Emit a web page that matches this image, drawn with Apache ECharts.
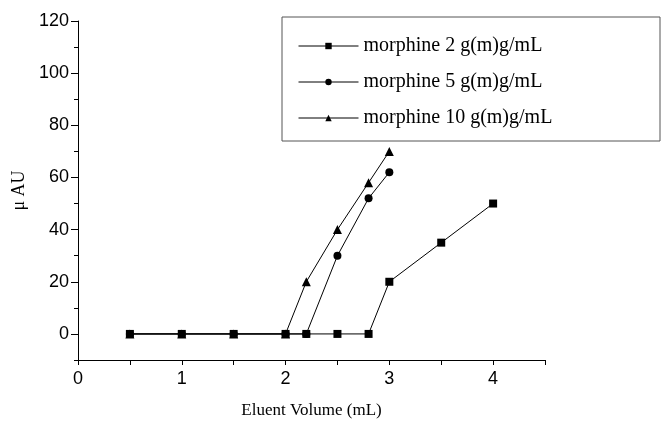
<!DOCTYPE html>
<html>
<head>
<meta charset="utf-8">
<script src="https://cdn.jsdelivr.net/npm/echarts@6/dist/echarts.min.js"></script>
<style>
  html, body { margin: 0; padding: 0; background: #fff; }
  #chart { width: 662px; height: 425px; }
</style>
</head>
<body>
<div id="chart"></div>
<script>
// data
const xTickLabels = [0, 1, 2, 3, 4];
const yTickLabels = [0, 20, 40, 60, 80, 100, 120];
const seriesNames = ['morphine 2 g(m)g/mL', 'morphine 5 g(m)g/mL', 'morphine 10 g(m)g/mL'];

const volume2 = [0.5, 1, 1.5, 2, 2.2, 2.5, 2.8, 3, 3.5, 4];
const au2 = [0, 0, 0, 0, 0, 0, 0, 20, 35, 50];

const volume5 = [0.5, 1, 1.5, 2, 2.2, 2.5, 2.8, 3];
const au5 = [0, 0, 0, 0, 0, 30, 52, 62];

const volume10 = [0.5, 1, 1.5, 2, 2.2, 2.5, 2.8, 3];
const au10 = [0, 0, 0, 0, 20, 40, 58, 70];

const pairs = (xs, ys) => xs.map((x, i) => [x, ys[i]]);

const chart = echarts.init(document.getElementById('chart'));

const serif = 'Liberation Serif';
const sans = 'Liberation Sans';

const makeSeries = (name, data, symbol, size) => ({
  name: name,
  type: 'line',
  data: data,
  symbol: symbol,
  symbolSize: size,
  itemStyle: { color: '#000' },
  lineStyle: { color: '#000', width: 1 },
  animation: false
});

const options = {
  backgroundColor: '#fff',
  grid: { left: 78, right: 117, top: 21, bottom: 65 },
  legend: {
    orient: 'vertical',
    left: 293,
    top: 31,
    itemWidth: 60,
    itemHeight: 8,
    itemGap: 16,
    data: seriesNames,
    lineStyle: { width: 1, color: '#000' },
    itemStyle: { color: '#000' },
    textStyle: { fontFamily: serif, fontSize: 20, color: '#000' }
  },
  graphic: [{
    type: 'rect',
    shape: { x: 282, y: 17, width: 378, height: 124 },
    style: { fill: 'none', stroke: '#555', lineWidth: 1 },
    z: 100
  }],
  xAxis: [{
    type: 'value',
    min: 0,
    max: 4.5,
    name: 'Eluent Volume (mL)',
    nameLocation: 'middle',
    nameGap: 42,
    nameTextStyle: { fontFamily: serif, fontSize: 17, color: '#000' },
    axisLine: { onZero: false, lineStyle: { color: '#000', width: 1 } },
    axisTick: { customValues: [0, 0.5, 1, 1.5, 2, 2.5, 3, 3.5, 4, 4.5], length: 5, lineStyle: { color: '#000' } },
    axisLabel: { customValues: xTickLabels, fontFamily: sans, fontSize: 18, color: '#000', margin: 10 },
    splitLine: { show: false }
  }],
  yAxis: [{
    type: 'value',
    min: -10,
    max: 120,
    name: 'μ AU',
    nameLocation: 'middle',
    nameRotate: 90,
    nameGap: 44,
    nameTextStyle: { fontFamily: serif, fontSize: 18, color: '#000' },
    axisLine: { show: true, lineStyle: { color: '#000', width: 1 } },
    axisTick: { customValues: yTickLabels, length: 7, lineStyle: { color: '#000' } },
    axisLabel: { customValues: yTickLabels, fontFamily: sans, fontSize: 18, color: '#000', margin: 9 },
    splitLine: { show: false }
  }, {
    // minor ticks only
    type: 'value',
    position: 'left',
    min: -10,
    max: 120,
    axisLine: { show: false },
    axisTick: { customValues: [-10, 10, 30, 50, 70, 90, 110], length: 4, lineStyle: { color: '#000' } },
    axisLabel: { show: false },
    splitLine: { show: false }
  }],
  series: [
    makeSeries(seriesNames[0], pairs(volume2, au2), 'rect', 8),
    makeSeries(seriesNames[1], pairs(volume5, au5), 'circle', 8),
    makeSeries(seriesNames[2], pairs(volume10, au10), 'triangle', 9)
  ]
};

chart.setOption(options);
</script>
</body>
</html>
